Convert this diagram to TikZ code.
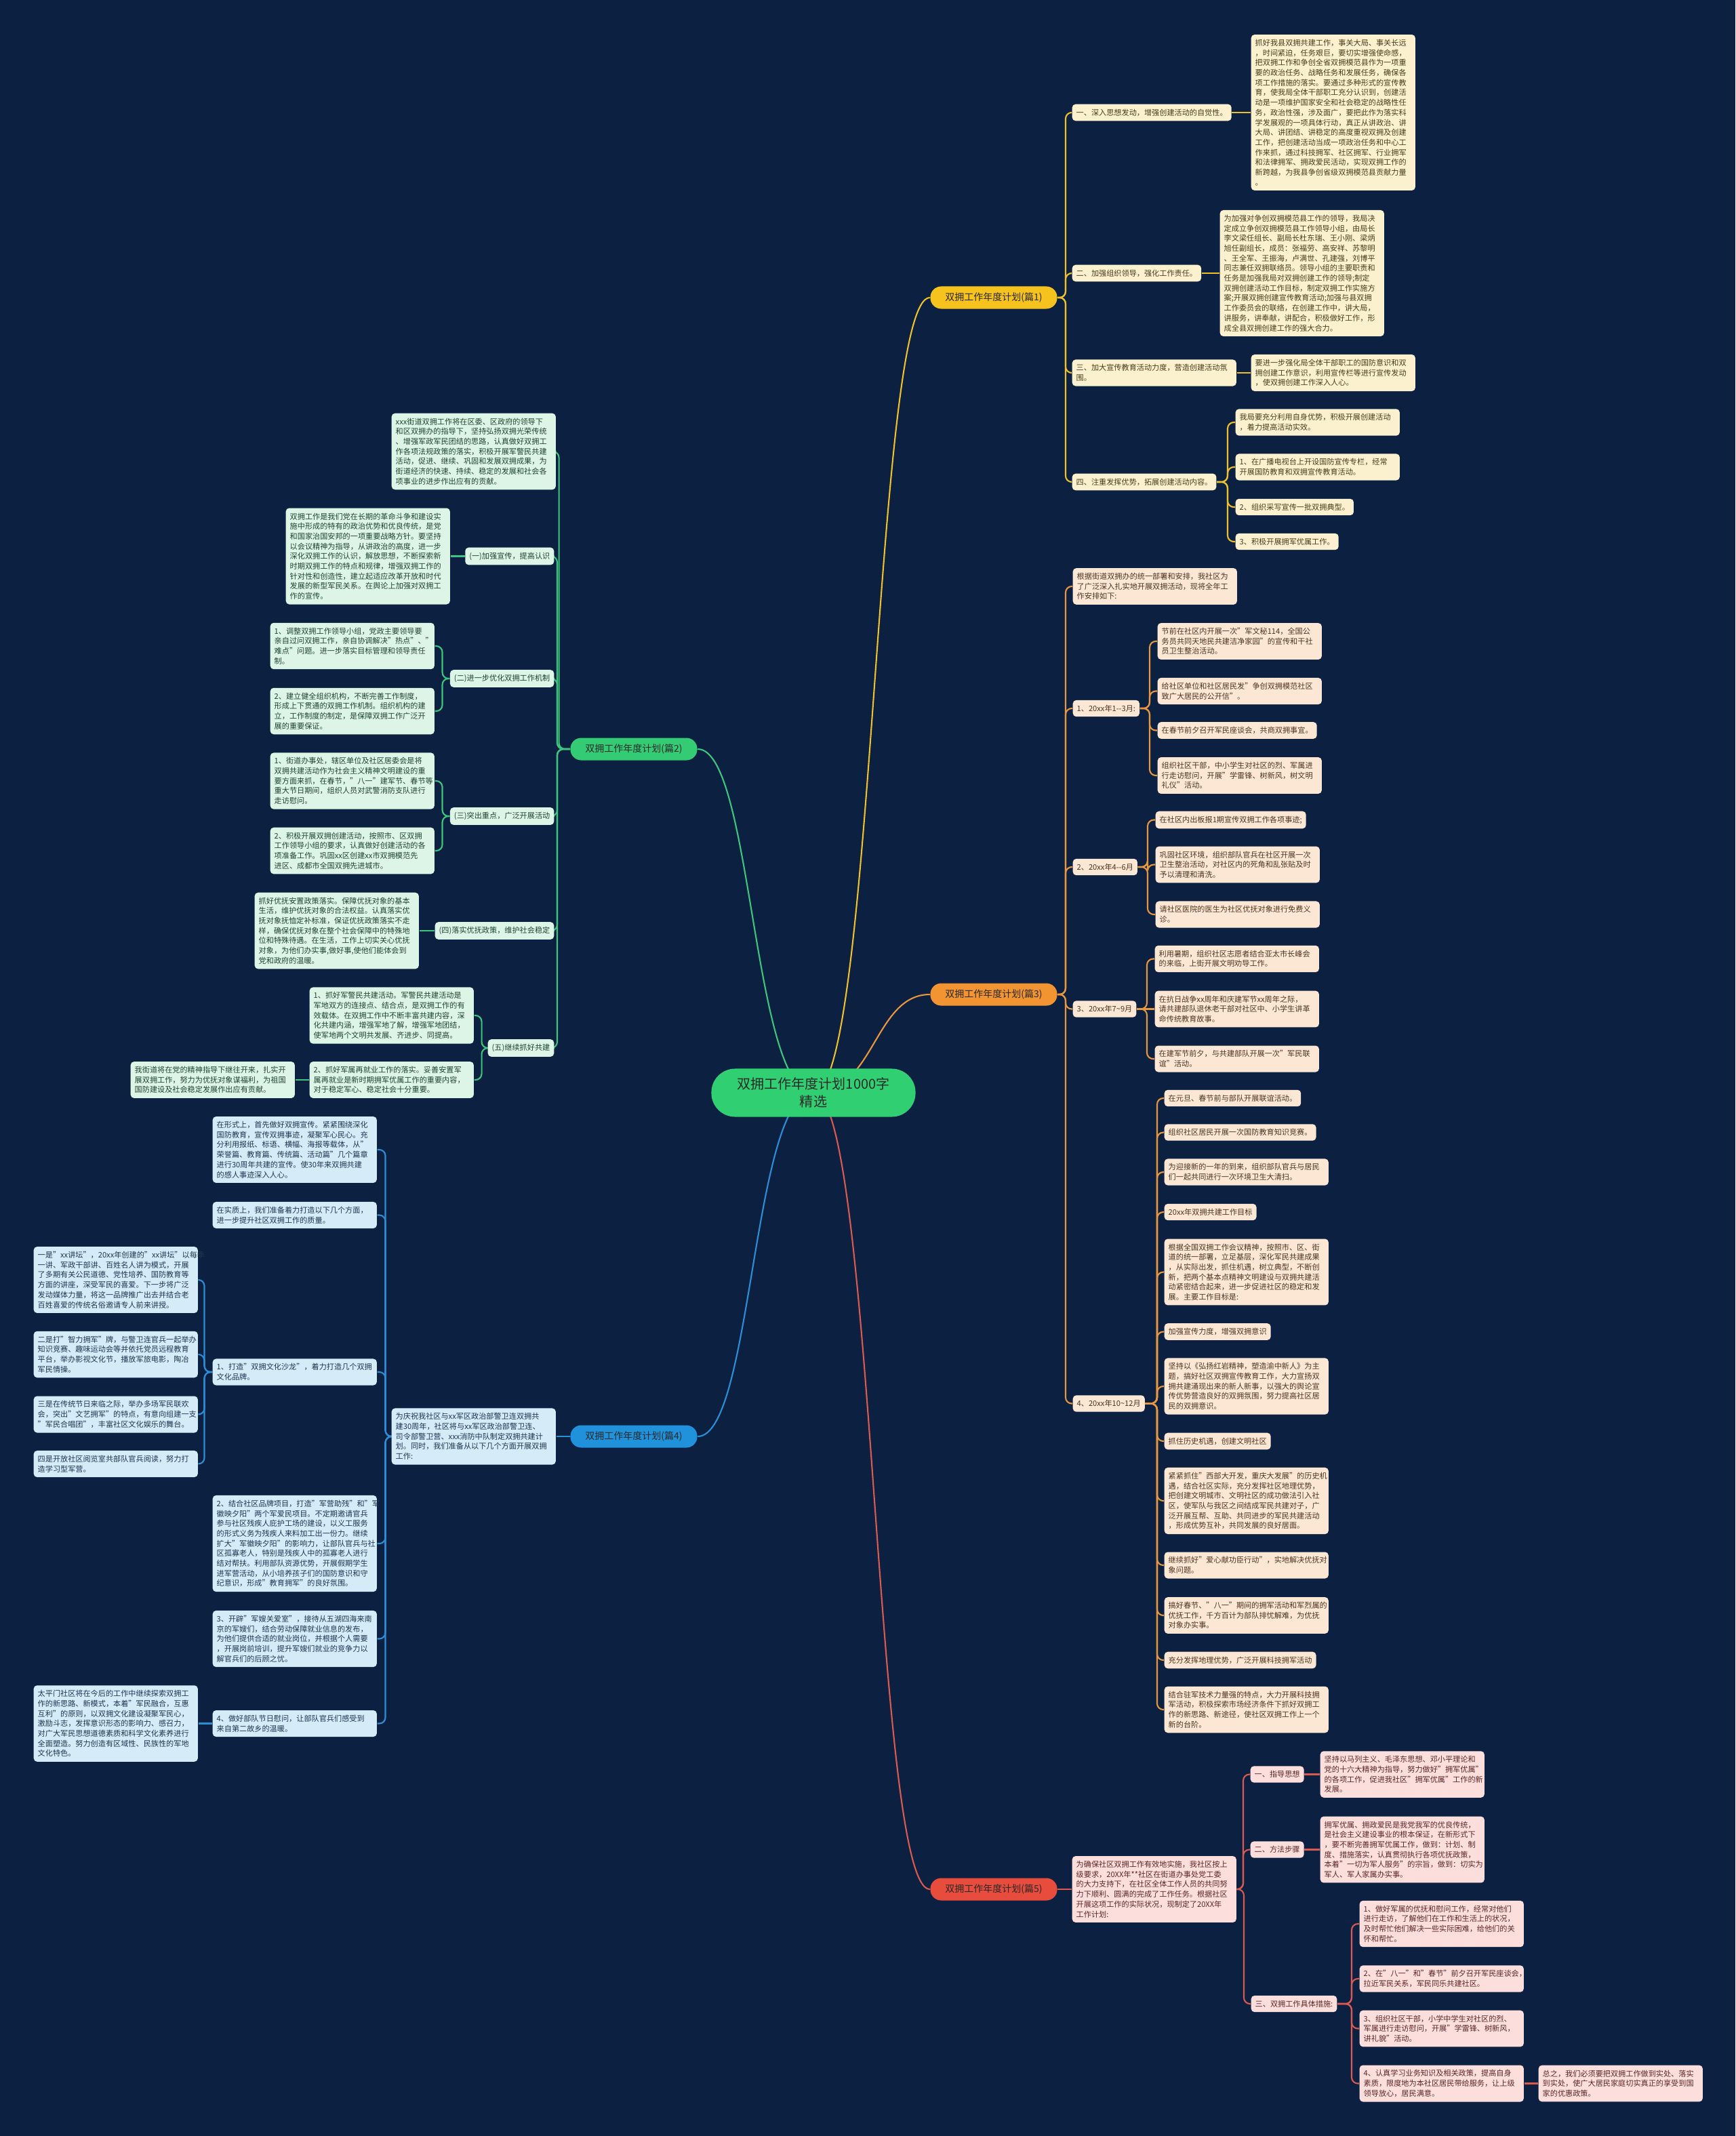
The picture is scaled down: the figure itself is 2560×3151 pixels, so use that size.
\documentclass[tikz,border=0pt]{standalone}
\usepackage{fontspec}
\setmainfont{Noto Sans CJK SC}
\usetikzlibrary{backgrounds,calc}
\definecolor{bgc}{HTML}{0C2142}
\definecolor{cenc}{HTML}{2FCF72}
\definecolor{yA}{HTML}{F5C21E}
\definecolor{yL}{HTML}{EDC02C}
\definecolor{yS}{HTML}{FBF1CE}
\definecolor{yT}{HTML}{4A3C1E}
\definecolor{oA}{HTML}{F29432}
\definecolor{oL}{HTML}{E8973F}
\definecolor{oS}{HTML}{FCE7D4}
\definecolor{oT}{HTML}{4E3420}
\definecolor{rA}{HTML}{E74C3C}
\definecolor{rL}{HTML}{DA5A4F}
\definecolor{rS}{HTML}{FCDFDC}
\definecolor{rT}{HTML}{5C2626}
\definecolor{gA}{HTML}{33CC74}
\definecolor{gL}{HTML}{3CC57C}
\definecolor{gS}{HTML}{DDF5E6}
\definecolor{gT}{HTML}{1F4431}
\definecolor{bA}{HTML}{2091DB}
\definecolor{bL}{HTML}{2B8FD7}
\definecolor{bS}{HTML}{D5EBF8}
\definecolor{bT}{HTML}{1E3651}
\definecolor{pT}{HTML}{2A2A2A}
\newcommand\subfont{\fontsize{3.17pt}{4.18pt}\selectfont}
\newcommand\pillfont{\fontsize{3.98pt}{4.8pt}\selectfont}
\newcommand\cenfont{\fontsize{5.7pt}{7.3pt}\selectfont}
\newcommand\linkR[4]{\draw[link,#1] (#2.east) -- ($(#2.east -| #3.west)+(-#4,0)$) |- (#3.west);}
\newcommand\linkL[4]{\draw[link,#1] (#2.west) -- ($(#2.west -| #3.east)+(#4,0)$) |- (#3.east);}
\newcommand\linkS[3]{\draw[link,#1] (#2.east) -- (#2.east -| #3.west);}
\newcommand\linkSL[3]{\draw[link,#1] (#2.west) -- (#2.west -| #3.east);}
\tikzset{
 box/.style={rounded corners=0.05cm, inner xsep=0.06cm, inner ysep=0.07cm, align=left, font=\subfont, anchor=west},
 wd/.style={text width=2.30cm},
 ys/.style={box, fill=yS, text=yT},
 os/.style={box, fill=oS, text=oT},
 rs/.style={box, fill=rS, text=rT},
 gs/.style={box, fill=gS, text=gT},
 bs/.style={box, fill=bS, text=bT},
 pill/.style={rounded corners=0.16cm, minimum width=1.87cm, minimum height=0.33cm, font=\pillfont, inner sep=0pt, align=center, text=pT},
 link/.style={line width=0.6pt, rounded corners=0.09cm},
}
\begin{document}
\begin{tikzpicture}[x=0.01cm,y=-0.01cm]
\useasboundingbox (0,0) rectangle (2560,3151);
% center
\node[fill=cenc, rounded corners=0.35cm, minimum width=3.01cm, minimum height=0.71cm, align=center, font=\cenfont, text=pT] (cen) at (1200,1612) {双拥工作年度计划1000字\\精选};
% ---------- branch 1
\node[pill,fill=yA] (b1) at (1466,439) {双拥工作年度计划(篇1)};
\node[ys] (b1l1) at (1581,166) {一、深入思想发动，增强创建活动的自觉性。};
\node[ys,wd] (b1t1) at (1845,166) {抓好我县双拥共建工作，事关大局、事关长远\\，时间紧迫，任务艰巨，要切实增强使命感，\\把双拥工作和争创全省双拥模范县作为一项重\\要的政治任务、战略任务和发展任务，确保各\\项工作措施的落实。要通过多种形式的宣传教\\育，使我局全体干部职工充分认识到，创建活\\动是一项维护国家安全和社会稳定的战略性任\\务，政治性强，涉及面广，要把此作为落实科\\学发展观的一项具体行动，真正从讲政治、讲\\大局、讲团结、讲稳定的高度重视双拥及创建\\工作，把创建活动当成一项政治任务和中心工\\作来抓，通过科技拥军、社区拥军、行业拥军\\和法律拥军、拥政爱民活动，实现双拥工作的\\新跨越，为我县争创省级双拥模范县贡献力量\\。};
\node[ys] (b1l2) at (1581,403) {二、加强组织领导，强化工作责任。};
\node[ys,wd] (b1t2) at (1799,403) {为加强对争创双拥模范县工作的领导，我局决\\定成立争创双拥模范县工作领导小组，由局长\\李文梁任组长、副局长杜东瑞、王小刚、梁炳\\旭任副组长，成员：张福劳、高安祥、苏黎明\\、王全军、王振海，卢满世、孔建强，刘博平\\同志兼任双拥联络员。领导小组的主要职责和\\任务是加强我局对双拥创建工作的领导;制定\\双拥创建活动工作目标，制定双拥工作实施方\\案;开展双拥创建宣传教育活动;加强与县双拥\\工作委员会的联络，在创建工作中，讲大局，\\讲服务，讲奉献，讲配合，积极做好工作，形\\成全县双拥创建工作的强大合力。};
\node[ys,wd] (b1l3) at (1581,550) {三、加大宣传教育活动力度，营造创建活动氛\\围。};
\node[ys,wd] (b1t3) at (1845,550) {要进一步强化局全体干部职工的国防意识和双\\拥创建工作意识，利用宣传栏等进行宣传发动\\，使双拥创建工作深入人心。};
\node[ys] (b1l4) at (1581,711) {四、注重发挥优势，拓展创建活动内容。};
\node[ys,wd] (b1c1) at (1822,623) {我局要充分利用自身优势，积极开展创建活动\\，着力提高活动实效。};
\node[ys,wd] (b1c2) at (1822,689) {1、在广播电视台上开设国防宣传专栏，经常\\开展国防教育和双拥宣传教育活动。};
\node[ys] (b1c3) at (1822,748) {2、组织采写宣传一批双拥典型。};
\node[ys] (b1c4) at (1822,799) {3、积极开展拥军优属工作。};
% ---------- branch 3
\node[pill,fill=oA] (b3) at (1466,1467) {双拥工作年度计划(篇3)};
\node[os,wd] (b3i) at (1582,865) {根据街道双拥办的统一部署和安排，我社区为\\了广泛深入扎实地开展双拥活动，现将全年工\\作安排如下:};
\node[os] (b3p1) at (1582,1045) {1、20xx年1-{}-3月:};
\node[os,wd] (b3p1a) at (1707,946) {节前在社区内开展一次"军文秘114，全国公\\务员共同天地民共建洁净家园"的宣传和干社\\员卫生整治活动。};
\node[os,wd] (b3p1b) at (1707,1019.5) {给社区单位和社区居民发"争创双拥模范社区\\致广大居民的公开信"。};
\node[os] (b3p1c) at (1707,1077.5) {在春节前夕召开军民座谈会，共商双拥事宜。};
\node[os,wd] (b3p1d) at (1707,1144) {组织社区干部，中小学生对社区的烈、军属进\\行走访慰问，开展"学雷锋、树新风，树文明\\礼仪"活动。};
\node[os] (b3p2) at (1582,1279) {2、20xx年4-{}-6月};
\node[os] (b3p2a) at (1704,1209.5) {在社区内出板报1期宣传双拥工作各项事迹;};
\node[os,wd] (b3p2b) at (1704,1275.5) {巩固社区环境，组织部队官兵在社区开展一次\\卫生整治活动，对社区内的死角和乱张贴及时\\予以清理和清洗。};
\node[os,wd] (b3p2c) at (1704,1349) {请社区医院的医生为社区优抚对象进行免费义\\诊。};
\node[os] (b3p3) at (1582,1488.5) {3、20xx年7\textasciitilde 9月};
\node[os,wd] (b3p3a) at (1703,1414.5) {利用暑期，组织社区志愿者结合亚太市长峰会\\的来临，上街开展文明劝导工作。};
\node[os,wd] (b3p3b) at (1703,1488.5) {在抗日战争xx周年和庆建军节xx周年之际，\\请共建部队退休老干部对社区中、小学生讲革\\命传统教育故事。};
\node[os,wd] (b3p3c) at (1703,1562) {在建军节前夕，与共建部队开展一次"军民联\\谊"活动。};
\node[os] (b3p4) at (1582,2070.5) {4、20xx年10\textasciitilde 12月};
\node[os] (b3p4a) at (1717,1620) {在元旦、春节前与部队开展联谊活动。};
\node[os] (b3p4b) at (1717,1670.5) {组织社区居民开展一次国防教育知识竞赛。};
\node[os,wd] (b3p4c) at (1717,1729) {为迎接新的一年的到来，组织部队官兵与居民\\们一起共同进行一次环境卫生大清扫。};
\node[os] (b3p4d) at (1717,1788) {20xx年双拥共建工作目标};
\node[os,wd] (b3p4e) at (1717,1876.5) {根据全国双拥工作会议精神，按照市、区、街\\道的统一部署，立足基层，深化军民共建成果\\，从实际出发，抓住机遇，树立典型，不断创\\新，把两个基本点精神文明建设与双拥共建活\\动紧密结合起来，进一步促进社区的稳定和发\\展。主要工作目标是:};
\node[os] (b3p4f) at (1717,1964.5) {加强宣传力度，增强双拥意识};
\node[os,wd] (b3p4g) at (1717,2045) {坚持以《弘扬红岩精神，塑造渝中新人》为主\\题，搞好社区双拥宣传教育工作，大力宣扬双\\拥共建涌现出来的新人新事，以强大的舆论宣\\传优势营造良好的双拥氛围，努力提高社区居\\民的双拥意识。};
\node[os] (b3p4h) at (1717,2126) {抓住历史机遇，创建文明社区};
\node[os,wd] (b3p4i) at (1717,2214) {紧紧抓住"西部大开发，重庆大发展"的历史机\\遇，结合社区实际，充分发挥社区地理优势，\\把创建文明城市、文明社区的成功做法引入社\\区，使军队与我区之间结成军民共建对子，广\\泛开展互帮、互助、共同进步的军民共建活动\\，形成优势互补，共同发展的良好居面。};
\node[os,wd] (b3p4j) at (1717,2309) {继续抓好"爱心献功臣行动"，实地解决优抚对\\象问题。};
\node[os,wd] (b3p4k) at (1717,2383) {搞好春节、"八一"期间的拥军活动和军烈属的\\优抚工作，千方百计为部队排忧解难，为优抚\\对象办实事。};
\node[os] (b3p4l) at (1717,2449) {充分发挥地理优势，广泛开展科技拥军活动};
\node[os,wd] (b3p4m) at (1717,2522) {结合驻军技术力量强的特点，大力开展科技拥\\军活动，积极探索市场经济条件下抓好双拥工\\作的新思路、新途径，使社区双拥工作上一个\\新的台阶。};
% ---------- branch 5
\node[pill,fill=rA] (b5) at (1466,2787) {双拥工作年度计划(篇5)};
\node[rs,wd] (b5i) at (1581,2787) {为确保社区双拥工作有效地实施，我社区按上\\级要求，20XX年**社区在街道办事处党工委\\的大力支持下，在社区全体工作人员的共同努\\力下顺利、圆满的完成了工作任务。根据社区\\开展这项工作的实际状况，现制定了20XX年\\工作计划:};
\node[rs] (b5l1) at (1844,2617.5) {一、指导思想};
\node[rs,wd] (b5t1) at (1947,2617.5) {坚持以马列主义、毛泽东思想、邓小平理论和\\党的十六大精神为指导，努力做好"拥军优属"\\的各项工作，促进我社区"拥军优属"工作的新\\发展。};
\node[rs] (b5l2) at (1844,2728.5) {二、方法步骤};
\node[rs,wd] (b5t2) at (1947,2728.5) {拥军优属、拥政爱民是我党我军的优良传统，\\是社会主义建设事业的根本保证，在新形式下\\，要不断完善拥军优属工作，做到：计划、制\\度、措施落实，认真贯彻执行各项优抚政策，\\本着"一切为军人服务"的宗旨，做到：切实为\\军人、军人家属办实事。};
\node[rs] (b5l3) at (1845,2956) {三、双拥工作具体措施:};
\node[rs,wd] (b5c1) at (2005,2838) {1、做好军属的优抚和慰问工作，经常对他们\\进行走访，了解他们在工作和生活上的状况，\\及时帮忙他们解决一些实际困难，给他们的关\\怀和帮忙。};
\node[rs,wd] (b5c2) at (2005,2919) {2、在"八一"和"春节"前夕召开军民座谈会，\\拉近军民关系，军民同乐共建社区。};
\node[rs,wd] (b5c3) at (2005,2992.5) {3、组织社区干部，小学中学生对社区的烈、\\军属进行走访慰问，开展"学雷锋、树新风，\\讲礼貌"活动。};
\node[rs,wd] (b5c4) at (2005,3073.5) {4、认真学习业务知识及相关政策，提高自身\\素质，限度地为本社区居民带给服务，让上级\\领导放心，居民满意。};
\node[rs,wd] (b5z) at (2269,3073.5) {总之，我们必须要把双拥工作做到实处、落实\\到实处，使广大居民家庭切实真正的享受到国\\家的优惠政策。};
% ---------- branch 2
\node[pill,fill=gA] (b2) at (935,1105) {双拥工作年度计划(篇2)};
\node[gs,wd] (b2a) at (577,666) {xxx街道双拥工作将在区委、区政府的领导下\\和区双拥办的指导下，坚持弘扬双拥光荣传统\\、增强军政军民团结的思路，认真做好双拥工\\作各项法规政策的落实，积极开展军警民共建\\活动，促进、继续、巩固和发展双拥成果，为\\街道经济的快速、持续、稳定的发展和社会各\\项事业的进步作出应有的贡献。};
\node[gs,anchor=east] (b2l1) at (818,820.5) {(一)加强宣传，提高认识};
\node[gs,wd] (b2l1t) at (421,820.5) {双拥工作是我们党在长期的革命斗争和建设实\\施中形成的特有的政治优势和优良传统，是党\\和国家治国安邦的一项重要战略方针。要坚持\\以会议精神为指导，从讲政治的高度，进一步\\深化双拥工作的认识，解放思想，不断探索新\\时期双拥工作的特点和规律，增强双拥工作的\\针对性和创造性，建立起适应改革开放和时代\\发展的新型军民关系。在舆论上加强对双拥工\\作的宣传。};
\node[gs,anchor=east] (b2l2) at (818,1001) {(二)进一步优化双拥工作机制};
\node[gs,wd] (b2l2a) at (398,953) {1、调整双拥工作领导小组，党政主要领导要\\亲自过问双拥工作，亲自协调解决"热点"、"\\难点"问题。进一步落实目标管理和领导责任\\制。};
\node[gs,wd] (b2l2b) at (398,1049) {2、建立健全组织机构，不断完善工作制度，\\形成上下贯通的双拥工作机制。组织机构的建\\立，工作制度的制定，是保障双拥工作广泛开\\展的重要保证。};
\node[gs,anchor=east] (b2l3) at (818,1204) {(三)突出重点，广泛开展活动};
\node[gs,wd] (b2l3a) at (398,1152) {1、街道办事处，辖区单位及社区居委会是将\\双拥共建活动作为社会主义精神文明建设的重\\要方面来抓，在春节，"八一"建军节、春节等\\重大节日期间，组织人员对武警消防支队进行\\走访慰问。};
\node[gs,wd] (b2l3b) at (398,1255) {2、积极开展双拥创建活动，按照市、区双拥\\工作领导小组的要求，认真做好创建活动的各\\项准备工作。巩固xx区创建xx市双拥模范先\\进区、成都市全国双拥先进城市。};
\node[gs,anchor=east] (b2l4) at (818,1373) {(四)落实优抚政策，维护社会稳定};
\node[gs,wd] (b2l4t) at (375,1373) {抓好优抚安置政策落实。保障优抚对象的基本\\生活，维护优抚对象的合法权益。认真落实优\\抚对象抚恤定补标准，保证优抚政策落实不走\\样，确保优抚对象在整个社会保障中的特殊地\\位和特殊待遇。在生活，工作上切实关心优抚\\对象，为他们办实事,做好事,使他们能体会到\\党和政府的温暖。};
\node[gs,anchor=east] (b2l5) at (818,1546) {(五)继续抓好共建};
\node[gs,wd] (b2l5a) at (456,1498) {1、抓好军警民共建活动。军警民共建活动是\\军地双方的连接点、结合点，是双拥工作的有\\效载体。在双拥工作中不断丰富共建内容，深\\化共建内涵，增强军地了解，增强军地团结，\\使军地两个文明共发展、齐进步、同提高。};
\node[gs,wd] (b2l5b) at (456,1593) {2、抓好军属再就业工作的落实。妥善安置军\\属再就业是新时期拥军优属工作的重要内容，\\对于稳定军心、稳定社会十分重要。};
\node[gs,wd] (b2l5c) at (192,1593) {我街道将在党的精神指导下继往开来，扎实开\\展双拥工作，努力为优抚对象谋福利，为祖国\\国防建设及社会稳定发展作出应有贡献。};
% ---------- branch 4
\node[pill,fill=bA] (b4) at (935,2119) {双拥工作年度计划(篇4)};
\node[bs,wd] (b4i) at (577,2119) {为庆祝我社区与xx军区政治部警卫连双拥共\\建30周年，社区将与xx军区政治部警卫连、\\司令部警卫营、xxx消防中队制定双拥共建计\\划。同时，我们准备从以下几个方面开展双拥\\工作:};
\node[bs,wd] (b4a) at (313,1696) {在形式上，首先做好双拥宣传。紧紧围绕深化\\国防教育，宣传双拥事迹，凝聚军心民心。充\\分利用报纸、标语、横幅、海报等载体，从"\\荣誉篇、教育篇、传统篇、活动篇"几个篇章\\进行30周年共建的宣传。使30年来双拥共建\\的感人事迹深入人心。};
\node[bs,wd] (b4b) at (313,1792.5) {在实质上，我们准备着力打造以下几个方面，\\进一步提升社区双拥工作的质量。};
\node[bs,wd] (b4c1) at (313,2024) {1、打造"双拥文化沙龙"，着力打造几个双拥\\文化品牌。};
\node[bs,wd] (b4c1a) at (49,1888) {一是"xx讲坛"，20xx年创建的"xx讲坛"以每季\\一讲、军政干部讲、百姓名人讲为模式，开展\\了多期有关公民道德、党性培养、国防教育等\\方面的讲座，深受军民的喜爱。下一步将广泛\\发动媒体力量，将这一品牌推广出去并结合老\\百姓喜爱的传统名俗邀请专人前来讲授。};
\node[bs,wd] (b4c1b) at (49,1998) {二是打"智力拥军"牌，与警卫连官兵一起举办\\知识竞赛、趣味运动会等并依托党员远程教育\\平台，举办影视文化节，播放军旅电影，陶冶\\军民情操。};
\node[bs,wd] (b4c1c) at (49,2086.5) {三是在传统节日来临之际，举办多场军民联欢\\会，突出"文艺拥军"的特点，有意向组建一支\\"军民合唱团"，丰富社区文化娱乐的舞台。};
\node[bs,wd] (b4c1d) at (49,2159.5) {四是开放社区阅览室共部队官兵阅读，努力打\\造学习型军营。};
\node[bs,wd] (b4c2) at (313,2277) {2、结合社区品牌项目，打造"军营助残"和"军\\徽映夕阳"两个军爱民项目。不定期邀请官兵\\参与社区残疾人庇护工场的建设，以义工服务\\的形式义务为残疾人来料加工出一份力。继续\\扩大"军徽映夕阳"的影响力，让部队官兵与社\\区孤寡老人，特别是残疾人中的孤寡老人进行\\结对帮扶。利用部队资源优势，开展假期学生\\进军营活动，从小培养孩子们的国防意识和守\\纪意识，形成"教育拥军"的良好氛围。};
\node[bs,wd] (b4c3) at (313,2417.5) {3、开辟"军嫂关爱室"，接待从五湖四海来南\\京的军嫂们，结合劳动保障就业信息的发布，\\为他们提供合适的就业岗位，并根据个人需要\\，开展岗前培训，提升军嫂们就业的竞争力以\\解官兵们的后顾之忧。};
\node[bs,wd] (b4c4) at (313,2542.5) {4、做好部队节日慰问，让部队官兵们感受到\\来自第二故乡的温暖。};
\node[bs,wd] (b4c4a) at (49,2542.5) {太平门社区将在今后的工作中继续探索双拥工\\作的新思路、新模式，本着"军民融合，互惠\\互利"的原则，以双拥文化建设凝聚军民心，\\激励斗志，发挥意识形态的影响力、感召力，\\对广大军民思想道德素质和科学文化素养进行\\全面塑造。努力创造有区域性、民族性的军地\\文化特色。};
% ---------- connectors
\begin{pgfonlayer}{background}
\fill[bgc] (0,0) rectangle (2560,3151);
\draw[link,yL] (cen.center) .. controls (1290,1612) and (1290,439) .. (b1.west);
\draw[link,oL] (cen.center) .. controls (1290,1612) and (1290,1467) .. (b3.west);
\draw[link,rL] (cen.center) .. controls (1290,1612) and (1290,2787) .. (b5.west);
\draw[link,gL] (cen.center) .. controls (1110,1612) and (1110,1105) .. (b2.east);
\draw[link,bL] (cen.center) .. controls (1110,1612) and (1110,2119) .. (b4.east);
% b1
\linkR{yL}{b1}{b1l1}{9}\linkR{yL}{b1}{b1l2}{9}\linkR{yL}{b1}{b1l3}{9}\linkR{yL}{b1}{b1l4}{9}
\linkS{yL}{b1l1}{b1t1}\linkS{yL}{b1l2}{b1t2}\linkS{yL}{b1l3}{b1t3}
\linkR{yL}{b1l4}{b1c1}{11}\linkR{yL}{b1l4}{b1c2}{11}\linkR{yL}{b1l4}{b1c3}{11}\linkR{yL}{b1l4}{b1c4}{11}
% b3
\linkR{oL}{b3}{b3i}{10}\linkR{oL}{b3}{b3p1}{10}\linkR{oL}{b3}{b3p2}{10}\linkR{oL}{b3}{b3p3}{10}\linkR{oL}{b3}{b3p4}{10}
\linkR{oL}{b3p1}{b3p1a}{11}\linkR{oL}{b3p1}{b3p1b}{11}\linkR{oL}{b3p1}{b3p1c}{11}\linkR{oL}{b3p1}{b3p1d}{11}
\linkR{oL}{b3p2}{b3p2a}{11}\linkR{oL}{b3p2}{b3p2b}{11}\linkR{oL}{b3p2}{b3p2c}{11}
\linkR{oL}{b3p3}{b3p3a}{11}\linkS{oL}{b3p3}{b3p3b}\linkR{oL}{b3p3}{b3p3c}{11}
\foreach \k in {a,b,c,d,e,f,g,h,i,j,k,l,m}{\linkR{oL}{b3p4}{b3p4\k}{10}}
% b5
\linkS{rL}{b5}{b5i}
\linkR{rL}{b5i}{b5l1}{10}\linkR{rL}{b5i}{b5l2}{10}\linkR{rL}{b5i}{b5l3}{10}
\linkS{rL}{b5l1}{b5t1}\linkS{rL}{b5l2}{b5t2}
\linkR{rL}{b5l3}{b5c1}{11}\linkR{rL}{b5l3}{b5c2}{11}\linkR{rL}{b5l3}{b5c3}{11}\linkR{rL}{b5l3}{b5c4}{11}
\linkS{rL}{b5c4}{b5z}
% b2
\linkL{gL}{b2}{b2a}{4}\linkL{gL}{b2}{b2l1}{4}\linkL{gL}{b2}{b2l2}{4}\linkL{gL}{b2}{b2l3}{4}\linkL{gL}{b2}{b2l4}{4}\linkL{gL}{b2}{b2l5}{4}
\linkSL{gL}{b2l1}{b2l1t}
\linkL{gL}{b2l2}{b2l2a}{11}\linkL{gL}{b2l2}{b2l2b}{11}
\linkL{gL}{b2l3}{b2l3a}{11}\linkL{gL}{b2l3}{b2l3b}{11}
\linkSL{gL}{b2l4}{b2l4t}
\linkL{gL}{b2l5}{b2l5a}{11}\linkL{gL}{b2l5}{b2l5b}{11}
\linkSL{gL}{b2l5b}{b2l5c}
% b4
\linkSL{bL}{b4}{b4i}
\linkL{bL}{b4i}{b4a}{12}\linkL{bL}{b4i}{b4b}{12}\linkL{bL}{b4i}{b4c1}{12}\linkL{bL}{b4i}{b4c2}{12}\linkL{bL}{b4i}{b4c3}{12}\linkL{bL}{b4i}{b4c4}{12}
\linkL{bL}{b4c1}{b4c1a}{9}\linkL{bL}{b4c1}{b4c1b}{9}\linkL{bL}{b4c1}{b4c1c}{9}\linkL{bL}{b4c1}{b4c1d}{9}
\linkSL{bL}{b4c4}{b4c4a}
\end{pgfonlayer}
\end{tikzpicture}
\end{document}
